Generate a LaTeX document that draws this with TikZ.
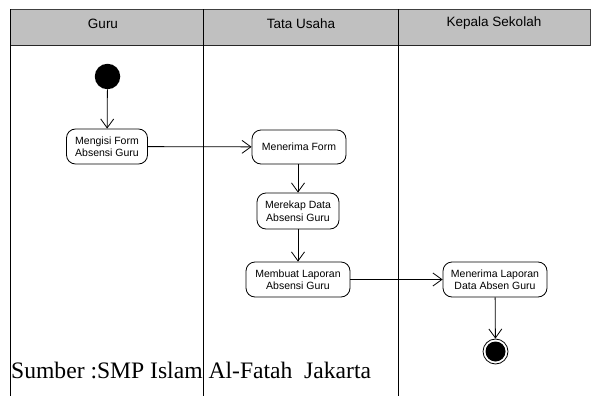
\documentclass[tikz,border=0pt]{standalone}
\usepackage{fontspec}
\setmainfont{Liberation Serif}
\newfontfamily\arialf{Liberation Sans}
\usetikzlibrary{arrows.meta}
\definecolor{hdrgray}{RGB}{192,192,192}
\tikzset{
  act/.style={draw, rounded corners=9pt, align=center, font=\arialf\fontsize{10.5}{12.5}\selectfont, inner sep=0pt, line width=0.8pt},
  flow/.style={draw, line width=0.8pt, -{Straight Barb[length=9pt, width=13pt, line width=0.8pt]}},
  lane/.style={draw, line width=0.9pt},
  hdr/.style={font=\arialf\fontsize{13.5}{15}\selectfont},
}
\begin{document}
\begin{tikzpicture}[x=1pt, y=-1pt]
\useasboundingbox (0,0) rectangle (591,396);
% header
\fill[hdrgray] (10,9.5) rectangle (590,46);
\draw[line width=1pt, black!75] (10,9.5) -- (590,9.5);
\draw[line width=1pt, black!85] (10,46) -- (590,46);
\draw[lane] (10,9.5) -- (10,396);
\draw[lane] (203.5,9.5) -- (203.5,396);
\draw[lane] (398,9.5) -- (398,396);
\draw[line width=1pt, black!75] (590,9.5) -- (590,46);
\node[hdr] (h1) at (103,23.5) {Guru};
\node[hdr] (h2) at (301,23.5) {Tata Usaha};
\node[hdr] (h3) at (494,23.5) {Kepala Sekolah};
% nodes
\node[circle, fill=black, minimum size=25.5pt, inner sep=0pt] (start) at (107.5,76.5) {};
\node[act, minimum width=81pt, minimum height=35pt] (a1) at (107,146.5) {Mengisi Form\\Absensi Guru};
\node[act, minimum width=94pt, minimum height=34pt] (a2) at (299,147) {Menerima Form};
\node[act, minimum width=82pt, minimum height=36pt] (a3) at (298,211) {Merekap Data\\Absensi Guru};
\node[act, minimum width=104pt, minimum height=35pt] (a4) at (298,279.5) {Membuat Laporan\\Absensi Guru};
\node[act, minimum width=104pt, minimum height=35pt] (a5) at (495,279.5) {Menerima Laporan\\Data Absen Guru};
\node[circle, draw, line width=0.8pt, minimum size=25pt, inner sep=0pt] (end) at (495.5,351.5) {};
\fill (end.center) circle (10pt);
% flows
\draw[flow] (start) -- (a1);
\draw[flow] (a1) -- (a2);
\draw[flow] (a2.south -| a3.north) -- (a3);
\draw[flow] (a3) -- (a4);
\draw[flow] (a4) -- (a5);
\draw[flow] (a5) -- (end);
% source
\node[anchor=base west, font=\fontsize{23.6}{26}\selectfont, inner sep=0pt] (src) at (11,378.3) {Sumber :SMP Islam Al-Fatah\ \ Jakarta};
\end{tikzpicture}
\end{document}
